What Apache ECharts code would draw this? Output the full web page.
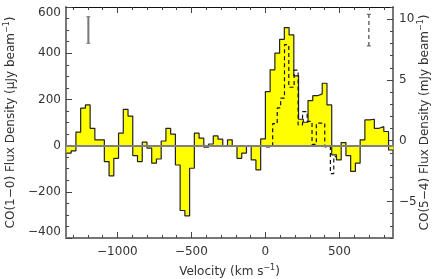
<!DOCTYPE html>
<html>
<head>
<meta charset="utf-8">
<script src="https://cdn.jsdelivr.net/npm/echarts@6/dist/echarts.min.js"></script>
<style>html,body{margin:0;padding:0;background:#fff}#c{width:436px;height:279px}</style>
</head>
<body>
<div id="c"></div>
<script>
// CO(1-0) histogram: bin left edges (km/s) and flux density (μJy/beam)
const co10BinStart = [-1344,-1312,-1280,-1248,-1216,-1184,-1152,-1120,-1088,-1056,-1024,-992,-960,-928,-896,-864,-832,-800,-768,-736,-704,-672,-640,-608,-576,-544,-512,-480,-448,-416,-384,-352,-320,-288,-256,-224,-192,-160,-128,-96,-64,-32,0,32,64,96,128,160,192,224,256,288,320,352,384,416,448,480,512,544,576,608,640,672,704,736,768,800,832];
const co10BinEnd = 864;
const co10Flux = [-33,-23,58,162,176,75,25,25,-69,-131,-55,54,157,128,-43,-69,15,-11,-76,-58,20,75,50,-84,-281,-304,-98,54,32,-7,7,42,28,-2,25,-2,-55,-33,-3,-62,-105,29,234,328,400,460,511,479,302,114,101,195,216,224,270,176,-40,-62,13,-43,-112,-76,25,111,114,75,82,61,-19];

// CO(5-4) dashed histogram: step left edges (km/s) and flux density (mJy/beam)
const co54BinStart = [5,49,80,103,129,158,194,221,251,282,315,344,401,439,462];
const co54BinEnd = 477;
const co54Flux = [-0.5,1.4,2.7,3.5,7.9,4.4,5.8,1.3,2.4,1.6,-0.3,1.45,-0.5,-2.7,-1.3];

// representative error bars: [velocity, low, high]
const co10ErrorBar = [-1196, 443, 558];
const co54ErrorBar = [699, 7.8, 10.4];

// ticks
const xMajorTicks = [-1000,-500,0,500];
const xMinorTicks = [-1300,-1200,-1100,-1000,-900,-800,-700,-600,-500,-400,-300,-200,-100,0,100,200,300,400,500,600,700,800];
const yRightMajorTicks = [-5,0,5,10];
const yRightMinorTicks = [-8,-7,-6,-5,-4,-3,-2,-1,0,1,2,3,4,5,6,7,8,9,10,11];

const co10Data = co10BinStart.map((v,i)=>[v, co10Flux[i]]);
co10Data.push([co10BinEnd, co10Flux[co10Flux.length-1]]);
const co54Data = co54BinStart.map((v,i)=>[v, co54Flux[i]]);
co54Data.push([co54BinEnd, co54Flux[co54Flux.length-1]]);

const FONT = 'DejaVu Sans';
const TXT = '#333';
const AX = '#777';
const fmt = v => v < 0 ? '\u2212' + Math.abs(v) : String(v);
const richSup = {
  t: {fontFamily: FONT, fontSize: 12, color: TXT},
  s: {fontFamily: FONT, fontSize: 8, color: TXT, padding: [0,0,7,0]}
};

const xBase = {type:'value', min:-1347, max:862, gridIndex:0, splitLine:{show:false}};
const chart = echarts.init(document.getElementById('c'), null, {renderer:'canvas'});

function errBar(params, api, dashed, color) {
  const x = api.value(0);
  const p1 = api.coord([x, api.value(1)]);
  const p2 = api.coord([x, api.value(2)]);
  const st = {stroke: color, lineWidth: dashed ? 1.3 : 2, lineDash: dashed ? [4,3] : null};
  return {type:'group', children:[
    {type:'line', shape:{x1:p1[0], y1:p1[1], x2:p2[0], y2:p2[1]}, style:st},
    {type:'line', shape:{x1:p1[0]-2, y1:p1[1], x2:p1[0]+2, y2:p1[1]}, style:{stroke:color, lineWidth:1}},
    {type:'line', shape:{x1:p2[0]-2, y1:p2[1], x2:p2[0]+2, y2:p2[1]}, style:{stroke:color, lineWidth:1}}
  ]};
}

chart.setOption({
  animation:false,
  backgroundColor:'#fff',
  grid:{left:66, right:43, top:7, bottom:41, outerBoundsMode:'none', containLabel:false},
  xAxis:[
    Object.assign({}, xBase, {
      position:'bottom',
      name:'{t|Velocity (km s}{s|\u22121}{t|)}',
      nameLocation:'middle', nameGap:26,
      nameTextStyle:{rich:richSup},
      axisLine:{show:true, onZero:false, lineStyle:{color:AX, width:2}},
      axisTick:{show:true, inside:true, length:6, customValues:xMajorTicks, lineStyle:{color:'#444'}},
      axisLabel:{show:true, customValues:xMajorTicks, formatter:fmt, fontFamily:FONT, fontSize:12, color:TXT, margin:8}
    }),
    Object.assign({}, xBase, {
      position:'bottom',
      axisLine:{show:false, onZero:false},
      axisTick:{show:true, inside:true, length:3, customValues:xMinorTicks, lineStyle:{color:'#444'}},
      axisLabel:{show:false}
    }),
    Object.assign({}, xBase, {
      position:'top',
      axisLine:{show:true, onZero:false, lineStyle:{color:'#111', width:1}},
      axisTick:{show:true, inside:true, length:6, customValues:xMajorTicks, lineStyle:{color:'#444'}},
      axisLabel:{show:false}
    }),
    Object.assign({}, xBase, {
      position:'top',
      axisLine:{show:false, onZero:false},
      axisTick:{show:true, inside:true, length:3, customValues:xMinorTicks, lineStyle:{color:'#444'}},
      axisLabel:{show:false}
    })
  ],
  yAxis:[
    {
      type:'value', position:'left', min:-400, max:600, interval:200,
      name:'{t|CO(1\u22120) Flux Density (\u03bcJy beam}{s|\u22121}{t|)}',
      nameLocation:'middle', nameGap:48, nameRotate:90,
      nameTextStyle:{rich:richSup},
      splitLine:{show:false},
      axisLine:{show:true, onZero:false, lineStyle:{color:AX, width:2}},
      axisTick:{show:true, inside:true, length:6, lineStyle:{color:'#444'}},
      minorTick:{show:true, splitNumber:4, length:3, lineStyle:{color:'#444'}},
      axisLabel:{formatter:fmt, fontFamily:FONT, fontSize:12, color:TXT, margin:5,
                 verticalAlignMaxLabel:'top', verticalAlignMinLabel:'bottom'}
    },
    {
      type:'value', position:'right', min:-8, max:11,
      name:'{t|CO(5\u22124) Flux Density (mJy beam}{s|\u22121}{t|)}',
      nameLocation:'middle', nameGap:24, nameRotate:90, nameMoveOverlap:false,
      nameTextStyle:{rich:richSup},
      splitLine:{show:false},
      axisLine:{show:true, onZero:false, lineStyle:{color:AX, width:2}},
      axisTick:{show:true, inside:true, length:6, customValues:yRightMajorTicks, lineStyle:{color:'#444'}},
      axisLabel:{customValues:yRightMajorTicks, formatter:fmt, fontFamily:FONT, fontSize:12, color:TXT, margin:6}
    },
    {
      type:'value', position:'right', min:-8, max:11,
      splitLine:{show:false},
      axisLine:{show:false, onZero:false},
      axisTick:{show:true, inside:true, length:3, customValues:yRightMinorTicks, lineStyle:{color:'#444'}},
      axisLabel:{show:false}
    }
  ],
  series:[
    {
      type:'line', xAxisIndex:0, yAxisIndex:0, step:'end', data:co10Data,
      symbol:'none', z:2,
      lineStyle:{color:'#222', width:1.2},
      areaStyle:{color:'#ffff00', opacity:1, origin:0},
      markLine:{silent:true, symbol:'none', label:{show:false},
        lineStyle:{color:'#808080', width:2, type:'solid'},
        data:[{yAxis:0}]}
    },
    {
      type:'line', xAxisIndex:0, yAxisIndex:1, step:'end', data:co54Data,
      symbol:'none', z:3,
      lineStyle:{color:'#111', width:1.2, type:[4,3]}
    },
    {
      type:'custom', xAxisIndex:0, yAxisIndex:0, z:4,
      data:[co10ErrorBar],
      renderItem:(p,api)=>errBar(p,api,false,'#777')
    },
    {
      type:'custom', xAxisIndex:0, yAxisIndex:1, z:4,
      data:[co54ErrorBar],
      renderItem:(p,api)=>errBar(p,api,true,'#555')
    }
  ]
});
</script>
</body>
</html>
